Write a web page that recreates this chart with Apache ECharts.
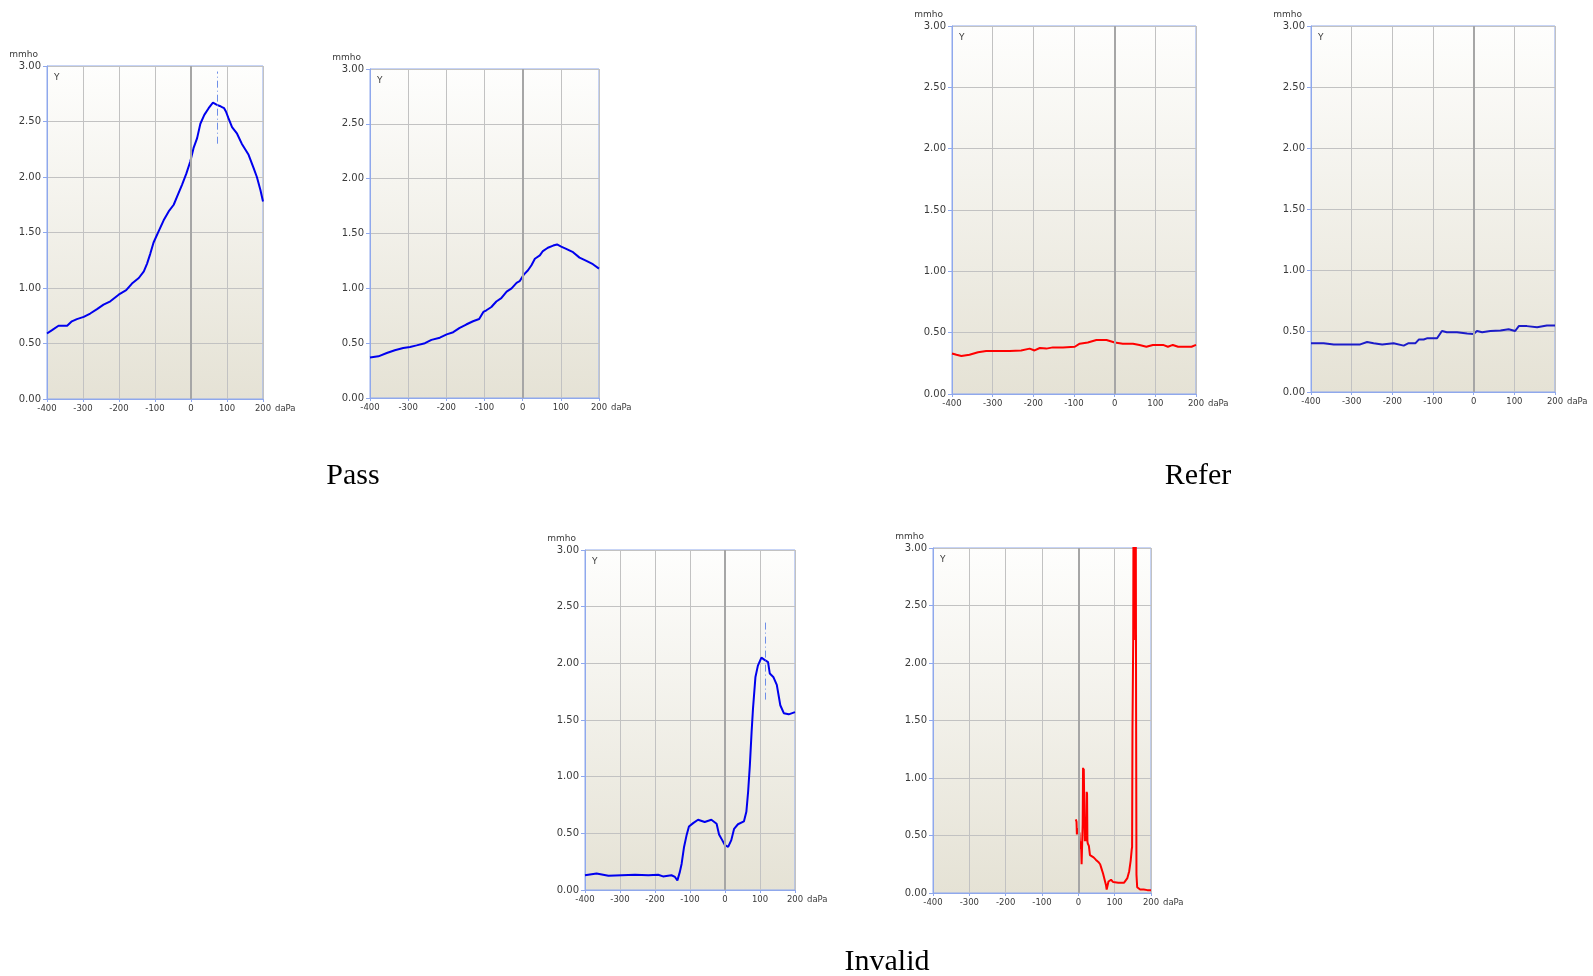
<!DOCTYPE html>
<html>
<head>
<meta charset="utf-8">
<script src="https://cdn.jsdelivr.net/npm/echarts@6/dist/echarts.min.js"></script>
<style>
html,body{margin:0;padding:0;background:#fff;}
#c{width:1593px;height:976px;}
</style>
</head>
<body>
<div id="c"></div>
<script>
// ---- Data (pressure daPa, admittance mmho) ----
const groupLabels = ['Pass', 'Refer', 'Invalid'];
const xTicks = [-400, -300, -200, -100, 0, 100, 200];
const yTicks = [0, 0.5, 1, 1.5, 2, 2.5, 3];
const yUnit = 'mmho';
const xUnit = 'daPa';
const panelTag = 'Y';

const passLeft = [[-400,0.59],[-386,0.62],[-368,0.66],[-344,0.66],[-331,0.70],[-317,0.72],[-298,0.74],[-280,0.77],[-261,0.81],[-243,0.85],[-224,0.88],[-201,0.94],[-180,0.98],[-164,1.04],[-145,1.09],[-131,1.15],[-122,1.22],[-113,1.31],[-104,1.41],[-90,1.51],[-76,1.61],[-62,1.69],[-48,1.75],[-39,1.82],[-25,1.93],[-13,2.03],[-2,2.14],[7,2.26],[17,2.35],[26,2.48],[37,2.56],[49,2.62],[56,2.65],[61,2.67],[66,2.66],[72,2.65],[80,2.64],[86,2.63],[92,2.62],[97,2.59],[104,2.53],[114,2.45],[128,2.39],[141,2.30],[160,2.20],[174,2.08],[183,2.00],[193,1.88],[200,1.78]];
const passLeftPeak = [74, 2.30, 2.95];

const passRight = [[-400,0.37],[-378,0.38],[-356,0.41],[-335,0.435],[-313,0.456],[-295,0.465],[-278,0.48],[-256,0.50],[-239,0.53],[-217,0.55],[-199,0.58],[-182,0.60],[-165,0.64],[-148,0.67],[-130,0.70],[-114,0.72],[-103,0.785],[-95,0.80],[-82,0.83],[-69,0.88],[-56,0.91],[-42,0.97],[-29,1.00],[-16,1.05],[-8,1.065],[3,1.125],[14,1.165],[23,1.21],[32,1.27],[45,1.30],[53,1.34],[66,1.37],[80,1.39],[90,1.40],[101,1.38],[114,1.36],[132,1.33],[149,1.28],[167,1.25],[184,1.22],[200,1.18]];

const referLeft = [[-400,0.33],[-389,0.32],[-377,0.31],[-357,0.32],[-336,0.34],[-316,0.35],[-299,0.35],[-258,0.35],[-230,0.355],[-209,0.37],[-197,0.355],[-184,0.375],[-168,0.37],[-152,0.38],[-127,0.38],[-98,0.385],[-86,0.41],[-66,0.42],[-45,0.44],[-20,0.44],[0,0.42],[20,0.41],[45,0.41],[61,0.40],[78,0.385],[94,0.40],[119,0.40],[131,0.385],[143,0.40],[156,0.385],[189,0.385],[200,0.40]];

const referRight = [[-400,0.40],[-369,0.40],[-344,0.39],[-311,0.39],[-279,0.39],[-262,0.41],[-246,0.40],[-225,0.39],[-197,0.40],[-172,0.38],[-160,0.40],[-143,0.40],[-135,0.43],[-123,0.43],[-115,0.44],[-90,0.44],[-78,0.50],[-66,0.49],[-41,0.49],[-16,0.48],[0,0.475],[8,0.50],[21,0.49],[41,0.50],[66,0.505],[86,0.515],[102,0.50],[111,0.54],[131,0.54],[156,0.53],[180,0.545],[200,0.545]];

const invalidLeft = [[-400,0.13],[-367,0.145],[-333,0.125],[-295,0.13],[-257,0.135],[-219,0.13],[-191,0.135],[-177,0.12],[-153,0.13],[-143,0.115],[-136,0.085],[-129,0.16],[-124,0.23],[-117,0.38],[-110,0.48],[-103,0.56],[-91,0.59],[-77,0.62],[-58,0.60],[-39,0.62],[-24,0.585],[-17,0.49],[-8,0.44],[0,0.395],[9,0.38],[18,0.44],[26,0.54],[37,0.58],[54,0.605],[61,0.69],[66,0.865],[71,1.10],[76,1.395],[80,1.60],[87,1.88],[94,1.98],[104,2.05],[113,2.03],[123,2.01],[128,1.91],[138,1.88],[148,1.81],[158,1.63],[168,1.56],[182,1.55],[200,1.57]];
const invalidLeftPeak = [114, 1.68, 2.38];

const invalidRight = [[-7,0.64],[-5,0.62],[-4,0.51],[-2,0.56],[1,0.55],[3,0.52],[4,0.45],[5,0.38],[6,0.45],[7,0.43],[8,0.38],[9,0.25],[11,0.25],[12,0.6],[13,1.09],[14,0.9],[15,1.08],[16,1.09],[17,0.6],[18,0.45],[19,0.58],[20,0.50],[21,0.45],[22,0.55],[23,0.88],[24,0.86],[25,0.45],[26,0.43],[29,0.41],[32,0.33],[35,0.32],[42,0.31],[48,0.29],[55,0.27],[60,0.25],[64,0.21],[68,0.17],[72,0.12],[76,0.07],[78,0.03],[80,0.04],[83,0.10],[86,0.115],[90,0.115],[96,0.095],[110,0.09],[120,0.09],[126,0.09],[130,0.10],[135,0.13],[140,0.19],[144,0.28],[147,0.38],[148,0.40],[149,1.41],[150,1.42],[151,2.2],[152,3.5],[153,2.2],[154,3.5],[156,3.5],[157,2.5],[158,3.5],[159,1.57],[160,0.16],[162,0.05],[165,0.04],[170,0.03],[180,0.03],[190,0.025],[200,0.025]];

// ---- Layout / styling ----
const panels = [
  {data: passLeft,    color: '#0000ee', peak: passLeftPeak,    box: [47, 66, 216, 333]},
  {data: passRight,   color: '#0000ee', peak: null,            box: [370, 69, 229, 329]},
  {data: referLeft,   color: '#ff0000', peak: null,            box: [952, 26, 244, 368]},
  {data: referRight,  color: '#1c1cc8', peak: null,            box: [1311, 26, 244, 366]},
  {data: invalidLeft, color: '#0000ee', peak: invalidLeftPeak, box: [585, 550, 210, 340]},
  {data: invalidRight,color: '#ff0000', peak: null,            box: [933, 548, 218, 345]}
];
const groupPos = [[353, 476], [1198, 476], [887, 962]];

const borderBlue = '#8fa8ec';
const gridGray = '#c2c2c2';
const labelColor = '#3a3a3a';
const font = 'DejaVu Sans';

const option = {
  animation: false,
  backgroundColor: '#ffffff',
  grid: [], xAxis: [], yAxis: [], series: [], graphic: []
};

panels.forEach((p, i) => {
  const [l, t, w, h] = p.box;
  option.grid.push({
    left: l, top: t, width: w, height: h, show: true,
    borderColor: borderBlue, borderWidth: 1,
    backgroundColor: new echarts.graphic.LinearGradient(0, 0, 0, 1, [
      {offset: 0, color: '#fefefd'},
      {offset: 1, color: '#e5e2d5'}
    ])
  });
  option.xAxis.push({
    type: 'value', gridIndex: i,
    min: xTicks[0], max: xTicks[xTicks.length - 1], interval: 100,
    axisLine: {show: true, onZero: false, lineStyle: {color: borderBlue}},
    axisTick: {show: true, length: 3, lineStyle: {color: borderBlue}},
    axisLabel: {color: labelColor, fontFamily: font, fontSize: 8.5, margin: 5},
    splitLine: {show: true, lineStyle: {color: gridGray, width: 1}}
  });
  option.yAxis.push({
    type: 'value', gridIndex: i,
    min: yTicks[0], max: yTicks[yTicks.length - 1], interval: 0.5,
    axisLine: {show: true, onZero: false, lineStyle: {color: borderBlue}},
    axisTick: {show: true, length: 4, lineStyle: {color: borderBlue}},
    axisLabel: {color: labelColor, fontFamily: font, fontSize: 10, margin: 6,
      formatter: v => v.toFixed(2)},
    splitLine: {show: true, lineStyle: {color: gridGray, width: 1}}
  });
  option.series.push({
    type: 'line', xAxisIndex: i, yAxisIndex: i, data: [], z: 1, silent: true,
    markLine: {silent: true, symbol: 'none', label: {show: false},
      lineStyle: {color: '#a6a6a6', width: 2, type: 'solid'},
      emphasis: {disabled: true},
      data: [{xAxis: 0}]}
  });
  const s = {
    type: 'line', xAxisIndex: i, yAxisIndex: i, data: p.data, z: 3,
    showSymbol: false, symbol: 'none', clip: true, silent: true,
    lineStyle: {color: p.color, width: 2}
  };
  if (p.peak) {
    s.markLine = {silent: true, symbol: 'none', label: {show: false},
      lineStyle: {color: '#6f8fe8', width: 1, type: [7, 3, 1, 3]},
      emphasis: {disabled: true},
      data: [[{coord: [p.peak[0], p.peak[1]]}, {coord: [p.peak[0], p.peak[2]]}]]};
  }
  option.series.push(s);

  option.graphic.push(
    {type: 'text', x: l - 9, y: t - 11, style: {text: yUnit, fill: labelColor,
      font: '9px "DejaVu Sans"', align: 'right', verticalAlign: 'middle'}},
    {type: 'text', x: l + w + 12, y: t + h + 10, style: {text: xUnit, fill: labelColor,
      font: '8.5px "DejaVu Sans"', align: 'left', verticalAlign: 'middle'}},
    {type: 'text', x: l + 7, y: t + 12, z: 10, style: {text: panelTag, fill: labelColor,
      font: '9px "DejaVu Sans"', align: 'left', verticalAlign: 'middle'}}
  );
});

groupLabels.forEach((g, i) => {
  option.graphic.push({type: 'text', x: groupPos[i][0], y: groupPos[i][1],
    style: {text: g, fill: '#000', font: '30px "Liberation Serif"', align: 'center', verticalAlign: 'middle'}});
});

const chart = echarts.init(document.getElementById('c'), null, {renderer: 'canvas'});
chart.setOption(option);
</script>
</body>
</html>
